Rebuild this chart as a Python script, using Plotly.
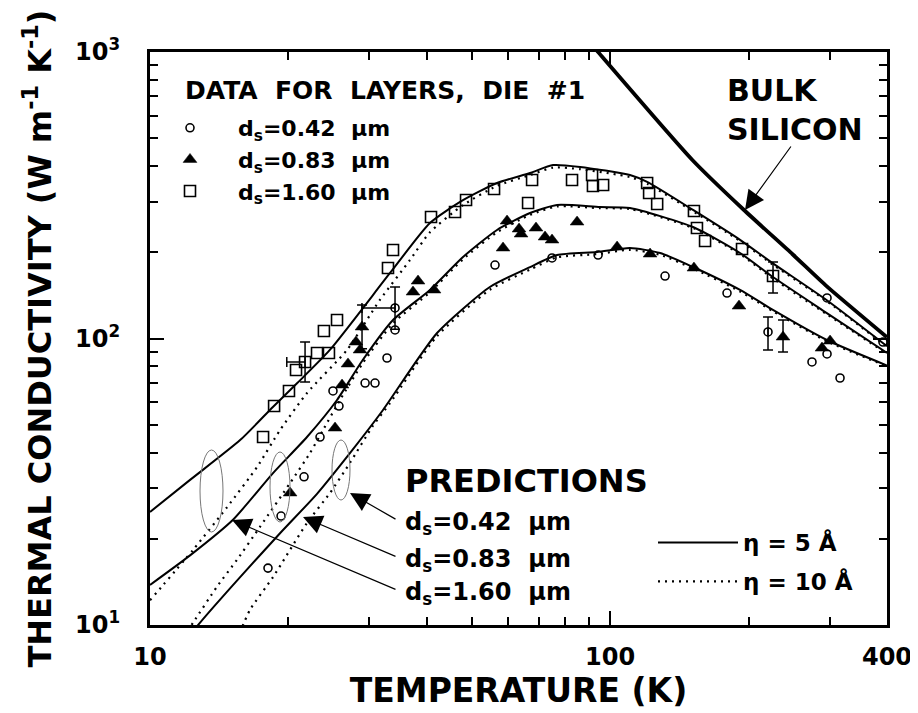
import math
import plotly.graph_objects as go

# ---------------- data (T in K, k in W m^-1 K^-1) ----------------
bulk_T = [90, 94.2, 151, 195, 250, 296, 400]
bulk_k = [1090, 1000, 420, 282, 196, 152, 101]

# predictions, eta = 5 A (solid)
p160_e5_T = [10.0, 12.22, 15.7, 18.5, 20.9, 24.6, 33.25, 40.6, 47.9, 56.8, 67.0, 75.2, 86.1, 110.5, 120.4, 151.5, 191.7, 226, 296, 400]
p160_e5_k = [24.8, 32.1, 44.2, 57.7, 69.9, 91.2, 169.3, 253, 304, 349, 378, 403, 397, 372, 352, 281, 221, 183, 136, 94]

p083_e5_T = [10.0, 12.22, 15.15, 18.51, 21.94, 25.5, 29.0, 33.75, 40.6, 47.9, 56.8, 67.0, 76.7, 95.1, 110.5, 151.5, 191.7, 226, 296, 400]
p083_e5_k = [13.8, 17.5, 23.3, 33.9, 45.3, 61.0, 84.1, 116, 147.7, 192.5, 239.2, 274.2, 292.4, 287.7, 285.4, 245, 198.8, 163.9, 122.7, 89]

p042_e5_T = [12.22, 12.85, 15.7, 19.17, 23.07, 27.2, 32.1, 42.07, 54.8, 67.0, 76.7, 93.7, 110.5, 128.5, 151.5, 191.7, 226, 296, 400]
p042_e5_k = [9.2, 10.2, 14.7, 20.9, 28.7, 39.8, 56.3, 104.5, 151.3, 177.6, 195.6, 200.4, 207, 198.8, 177.6, 147.7, 125.8, 98.8, 80.5]

# predictions, eta = 10 A (dotted)
p160_e10_T = [10.0, 12.41, 14.71, 17.09, 19.17, 21.94, 26.8, 31.6, 36.75, 40.6, 47.9, 56.8, 67.0, 75.2, 86.1, 110.5, 120.4, 151.5, 191.7, 226, 296, 400]
p160_e10_k = [12.2, 18.3, 25.8, 35.6, 47.9, 64.5, 91.2, 136.3, 188, 235, 292, 341, 372, 395, 390, 366, 347, 278, 219, 181, 135, 93.5]

p083_e10_T = [11.62, 12.41, 13.98, 15.46, 17.34, 20.16, 22.27, 23.77, 25.88, 29.0, 33.75, 40.6, 47.9, 56.8, 67.0, 76.7, 95.1, 110.5, 151.5, 191.7, 226, 296, 400]
p083_e10_k = [8.69, 10.2, 13.6, 16.9, 22.0, 31.3, 39.8, 47.9, 61.0, 82, 113, 145, 189, 235, 270, 289, 285, 283, 243, 197, 162, 121.5, 88.5]

p042_e10_T = [15.46, 16.5, 18.51, 21.94, 24.62, 27.2, 30.5, 33.25, 42.07, 54.8, 67.0, 76.7, 93.7, 110.5, 128.5, 151.5, 191.7, 226, 296, 400]
p042_e10_k = [8.93, 11.3, 14.7, 22.7, 28.9, 36.8, 49.5, 59.5, 102, 148, 174, 192, 197, 204, 196, 175.5, 146, 124.5, 97.8, 80]

# measured data, d_s = 0.42 um (open circles)
c042_T = [18.05, 19.27, 21.62, 23.42, 24.99, 25.75, 29.35, 30.84, 32.75, 34.09, 56.23, 74.8, 94.2, 131.7, 179.6, 274.8, 296.3, 316.2, 392, 296.3]
c042_k = [15.8, 24.0, 32.9, 45.3, 65.6, 58.1, 69.9, 69.9, 85.5, 107.1, 180.5, 191.0, 195.6, 165.2, 144.1, 82.8, 88.3, 72.8, 97.2, 138.5]
c042_err_T = [34.09, 220.5]
c042_err_k = [127.8, 105.4]
c042_err_up = [23.5, 13.5]
c042_err_dn = [20.0, 14.2]
c042_errx_up = [0, 0]
c042_errx_dn = [5.2, 0]

# measured data, d_s = 0.83 um (filled triangles)
t083_T = [20.16, 25.25, 26.15, 26.94, 28.04, 28.61, 37.30, 38.25, 41.44, 58.54, 59.72, 63.42, 64.06, 69.04, 72.23, 74.8, 84.79, 103.6, 122.2, 152.2, 190.7, 288.9, 300.8]
t083_k = [28.9, 48.7, 68.8, 81.5, 97.2, 91.2, 145.3, 158.7, 147.7, 207.0, 257.1, 241.1, 231.6, 243.0, 226.1, 220.7, 255.0, 208.6, 197.2, 176.2, 129.8, 92.6, 98.0]
t083_err_T = [28.90, 237.7]
t083_err_k = [109.7, 101.2]
t083_err_up = [21.2, 14.8]
t083_err_dn = [17.7, 11.5]

# measured data, d_s = 1.60 um (open squares)
s160_T = [17.61, 18.61, 20.05, 20.77, 23.07, 24.49, 23.88, 25.50, 32.91, 33.75, 40.82, 46.03, 48.64, 55.96, 67.69, 66.35, 82.68, 91.4, 91.8, 96.6, 120.4, 121.6, 126.6, 152.2, 154.5, 160.9, 193.6]
s160_k = [45.3, 58.1, 65.6, 77.6, 89.0, 89.0, 106.2, 116.0, 176.2, 203.7, 265.6, 276.5, 304.4, 332.5, 357.5, 297.1, 357.5, 372.2, 340.7, 343.4, 349.0, 322.0, 294.7, 278.6, 243.0, 218.9, 205.3]
s160_err_T = [21.73, 226.1]
s160_err_k = [82.8, 165.2]
s160_err_up = [14.4, 19.7]
s160_err_dn = [12.3, 21.1]
s160_errx_up = [0, 0]
s160_errx_dn = [1.9, 0]

legend_labels = ["d<sub>s</sub>=0.42\u00a0\u00a0µm", "d<sub>s</sub>=0.83\u00a0\u00a0µm", "d<sub>s</sub>=1.60\u00a0\u00a0µm"]
eta_labels = ["\u03b7 = 5 Å", "\u03b7 = 10 Å"]

x_major = [10, 100, 400]
x_major_text = ["10", "100", "400"]
x_minor = [20, 30, 40, 50, 60, 70, 80, 90, 200, 300]
y_major = [10, 100, 1000]
y_major_text = ["10<sup>1</sup>", "10<sup>2</sup>", "10<sup>3</sup>"]
y_minor = [20, 30, 40, 50, 60, 70, 80, 90, 200, 300, 400, 500, 600, 700, 800, 900]

# ---------------- figure ----------------
FONT = "DejaVu Sans"
BLACK = "black"
fig = go.Figure()

SOLID = dict(color=BLACK, width=2, shape="spline", smoothing=0.6)
DOT = dict(color=BLACK, width=2.2, dash="2px,5px", shape="spline", smoothing=0.6)

fig.add_trace(go.Scatter(x=bulk_T, y=bulk_k, mode="lines", showlegend=False,
                         line=dict(color=BLACK, width=3.8, shape="spline", smoothing=0.6)))

curves = [
    (p160_e5_T, p160_e5_k, SOLID, "eta5", True, eta_labels[0]),
    (p083_e5_T, p083_e5_k, SOLID, "eta5", False, eta_labels[0]),
    (p042_e5_T, p042_e5_k, SOLID, "eta5", False, eta_labels[0]),
    (p160_e10_T, p160_e10_k, DOT, "eta10", True, eta_labels[1]),
    (p083_e10_T, p083_e10_k, DOT, "eta10", False, eta_labels[1]),
    (p042_e10_T, p042_e10_k, DOT, "eta10", False, eta_labels[1]),
]
for xs, ys, ln, grp, show, name in curves:
    fig.add_trace(go.Scatter(x=xs, y=ys, mode="lines", line=ln, name=name,
                             legend="legend2", legendgroup=grp, showlegend=show))

MK_C = dict(symbol="circle-open", size=8, color=BLACK, line=dict(width=1.6, color=BLACK))
MK_T = dict(symbol="triangle-up", size=12, color=BLACK, line=dict(width=0.5, color=BLACK))
MK_S = dict(symbol="square-open", size=11, color=BLACK, line=dict(width=1.6, color=BLACK))

fig.add_trace(go.Scatter(x=c042_T, y=c042_k, mode="markers", marker=MK_C, name=legend_labels[0], legend="legend"))
fig.add_trace(go.Scatter(x=t083_T, y=t083_k, mode="markers", marker=MK_T, name=legend_labels[1], legend="legend"))
fig.add_trace(go.Scatter(x=s160_T, y=s160_k, mode="markers", marker=MK_S, name=legend_labels[2], legend="legend"))

ERR = dict(type="data", symmetric=False, color=BLACK, thickness=1.5, width=5)
fig.add_trace(go.Scatter(x=c042_err_T, y=c042_err_k, mode="markers", marker=MK_C, showlegend=False,
                         error_y=dict(ERR, array=c042_err_up, arrayminus=c042_err_dn),
                         error_x=dict(ERR, array=c042_errx_up, arrayminus=c042_errx_dn)))
fig.add_trace(go.Scatter(x=t083_err_T, y=t083_err_k, mode="markers", marker=MK_T, showlegend=False,
                         error_y=dict(ERR, array=t083_err_up, arrayminus=t083_err_dn)))
fig.add_trace(go.Scatter(x=s160_err_T, y=s160_err_k, mode="markers", marker=MK_S, showlegend=False,
                         error_y=dict(ERR, array=s160_err_up, arrayminus=s160_err_dn),
                         error_x=dict(ERR, array=s160_errx_up, arrayminus=s160_errx_dn)))

# ---------------- layout ----------------
# target plot frame in window pixels; page body has an 8 px margin
OFF = 8
L, R, T, B = 150, 887, 52, 625
W, H = 918 - OFF, 713 - OFF


def px(xp):
    return (xp - L) / (R - L)


def py(yp):
    return (B - yp) / (B - T)


TICKFONT = dict(family=FONT, size=24, color=BLACK, weight="bold")

common_axis = dict(type="log", showgrid=False, zeroline=False, showline=True, linewidth=3,
                   linecolor=BLACK, mirror="allticks", ticks="inside", ticklen=14, tickwidth=2,
                   tickcolor=BLACK, tickmode="array", tickfont=TICKFONT)

fig.update_layout(
    width=W, height=H,
    margin=dict(l=L - OFF, r=918 - R, t=T - OFF, b=713 - B, autoexpand=False),
    paper_bgcolor="white", plot_bgcolor="white",
    font=dict(family=FONT, color=BLACK),
    xaxis=dict(common_axis, range=[1, math.log10(400)], tickvals=x_major, ticktext=x_major_text,
               ticklabelstandoff=8,
               minor=dict(tickmode="array", tickvals=x_minor, ticks="inside", ticklen=8, tickwidth=2,
                          tickcolor=BLACK, showgrid=False),
               title=dict(text="TEMPERATURE (K)", standoff=6,
                          font=dict(family=FONT, size=33, color=BLACK, weight="bold"))),
    yaxis=dict(common_axis, range=[1, 3], tickvals=y_major, ticktext=y_major_text,
               ticklabelstandoff=22,
               minor=dict(tickmode="array", tickvals=y_minor, ticks="inside", ticklen=8, tickwidth=2,
                          tickcolor=BLACK, showgrid=False),
               title=dict(text="THERMAL CONDUCTIVITY (W m<sup>-1</sup> K<sup>-1</sup>)", standoff=14,
                          font=dict(family=FONT, size=32, color=BLACK, weight="bold"))),
    legend=dict(x=px(142), y=py(107), xanchor="left", yanchor="top", itemwidth=86,
                bgcolor="rgba(0,0,0,0)", borderwidth=0,
                font=dict(family=FONT, size=22, color=BLACK, weight="bold")),
    legend2=dict(x=px(653), y=py(521), xanchor="left", yanchor="top", itemwidth=80,
                 tracegroupgap=6, bgcolor="rgba(0,0,0,0)", borderwidth=0,
                 font=dict(family=FONT, size=23, color=BLACK, weight="bold")),
)

ANN_FONT = lambda s: dict(family=FONT, size=s, color=BLACK, weight="bold")
annotations = [
    dict(text="DATA\u00a0\u00a0FOR\u00a0\u00a0LAYERS,\u00a0\u00a0DIE\u00a0\u00a0#1", x=px(183), y=py(90),
         xanchor="left", yanchor="middle", font=ANN_FONT(25)),
    dict(text="BULK<br>SILICON", x=px(725), y=py(110), xanchor="left", yanchor="middle",
         align="left", font=ANN_FONT(30)),
    dict(text="PREDICTIONS", x=px(403), y=py(481), xanchor="left", yanchor="middle", font=ANN_FONT(32)),
    dict(text=legend_labels[0], x=px(403), y=py(523), xanchor="left", yanchor="middle", font=ANN_FONT(24)),
    dict(text=legend_labels[1], x=px(403), y=py(560), xanchor="left", yanchor="middle", font=ANN_FONT(24)),
    dict(text=legend_labels[2], x=px(403), y=py(593), xanchor="left", yanchor="middle", font=ANN_FONT(24)),
]
ARW = dict(text="", showarrow=True, arrowhead=2, arrowsize=3.2, arrowwidth=1.2, arrowcolor=BLACK,
           standoff=0, startstandoff=0, xref="paper", yref="paper", axref="pixel", ayref="pixel")
arrows = [
    ((745, 210), (792, 145)),
    ((350, 493), (397, 520)),
    ((303, 517), (397, 557)),
    ((232, 520), (397, 590)),
]
for (hx, hy), (tx, ty) in arrows:
    annotations.append(dict(ARW, x=px(hx), y=py(hy), ax=tx - hx, ay=ty - hy))
for a in annotations:
    a.setdefault("xref", "paper")
    a.setdefault("yref", "paper")
    a.setdefault("showarrow", False)
fig.update_layout(annotations=annotations)

ellipses = [(200, 223, 450, 532), (270, 290, 452, 522), (332, 350, 440, 500)]
for x0, x1, y0, y1 in ellipses:
    fig.add_shape(type="circle", xref="paper", yref="paper", x0=px(x0), x1=px(x1), y0=py(y1), y1=py(y0),
                  line=dict(color="#777777", width=1))

fig.write_html("out.html")
